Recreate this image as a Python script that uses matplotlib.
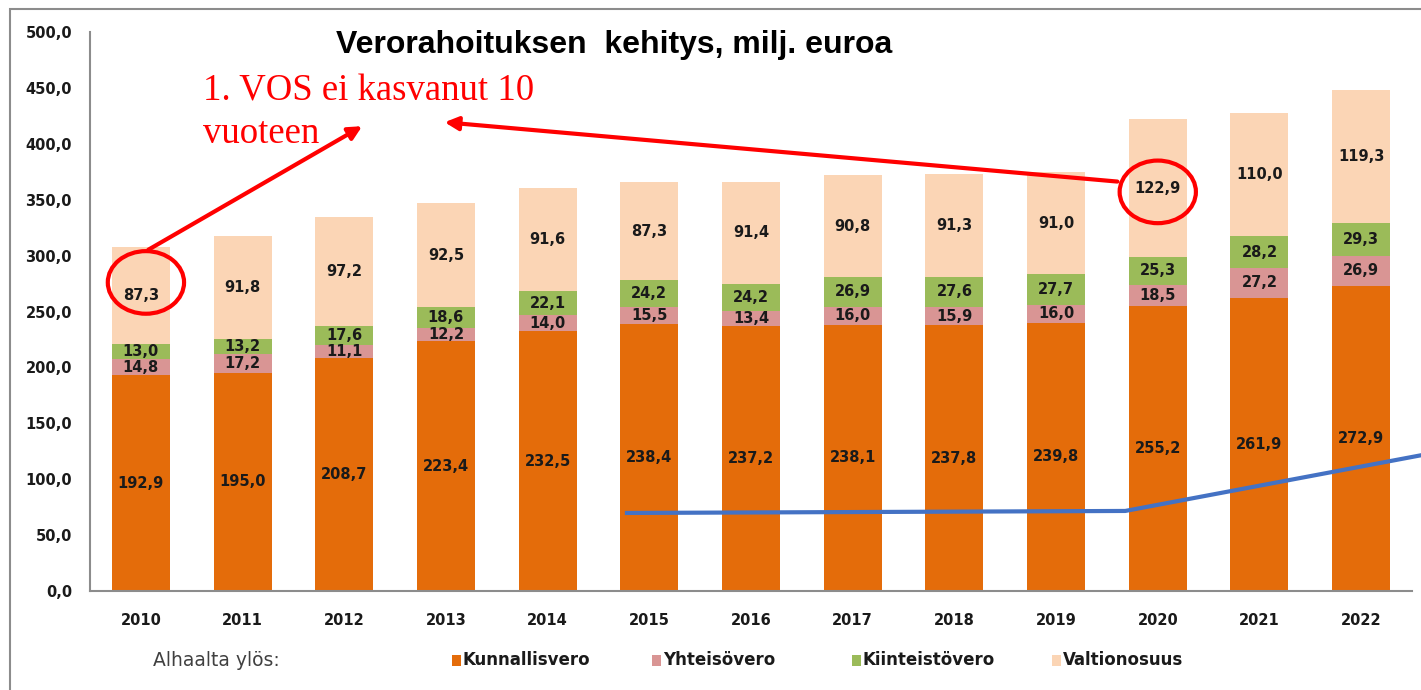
import matplotlib
matplotlib.use("Agg")
import matplotlib.pyplot as plt
from matplotlib.patches import Ellipse, Rectangle
import numpy as np

# Data (milj. euroa), bottom to top
years = ['2010', '2011', '2012', '2013', '2014', '2015', '2016',
         '2017', '2018', '2019', '2020', '2021', '2022']
kunnallisvero = [192.9, 195.0, 208.7, 223.4, 232.5, 238.4, 237.2, 238.1, 237.8, 239.8, 255.2, 261.9, 272.9]
yhteisovero = [14.8, 17.2, 11.1, 12.2, 14.0, 15.5, 13.4, 16.0, 15.9, 16.0, 18.5, 27.2, 26.9]
kiinteistovero = [13.0, 13.2, 17.6, 18.6, 22.1, 24.2, 24.2, 26.9, 27.6, 27.7, 25.3, 28.2, 29.3]
valtionosuus = [87.3, 91.8, 97.2, 92.5, 91.6, 87.3, 91.4, 90.8, 91.3, 91.0, 122.9, 110.0, 119.3]

series_names = ['Kunnallisvero', 'Yhteisövero', 'Kiinteistövero', 'Valtionosuus']
series_colors = ['#E46C0A', '#D99594', '#9BBB59', '#FBD5B5']
yticks = [0, 50, 100, 150, 200, 250, 300, 350, 400, 450, 500]

fig = plt.figure(figsize=(14.21, 6.9), dpi=100)
W, H = 1421, 690
ax = fig.add_axes([90 / W, 99 / H, 1322 / W, 559 / H])

x = np.arange(len(years))
bottom = np.zeros(len(years))
for vals, name, col in zip([kunnallisvero, yhteisovero, kiinteistovero, valtionosuus],
                           series_names, series_colors):
    vals = np.array(vals)
    ax.bar(x, vals, 0.57, bottom=bottom, color=col, label=name)
    for xi, b, v in zip(x, bottom, vals):
        ax.text(xi, b + v / 2, f"{v:.1f}".replace('.', ','), ha='center', va='center',
                fontsize=10.5, fontweight='bold', color='#1a1a1a')
    bottom += vals

ax.set_xlim(-0.5, 12.5)
ax.set_ylim(0, 500)
ax.set_yticks(yticks)
ax.set_yticklabels([f"{t:.1f}".replace('.', ',') for t in yticks])
ax.set_xticks(x)
ax.set_xticklabels(years)
for lab in ax.get_xticklabels() + ax.get_yticklabels():
    lab.set_fontweight('bold')
    lab.set_fontsize(10.5)
    lab.set_color('#1a1a1a')
ax.tick_params(axis='y', length=0, pad=13)
ax.tick_params(axis='x', length=0, pad=16)
for s in ['top', 'right']:
    ax.spines[s].set_visible(False)
for s in ['left', 'bottom']:
    ax.spines[s].set_color('#8c8c8c')
    ax.spines[s].set_linewidth(1.5)

fig.text(614 / W, 1 - 45 / H, 'Verorahoituksen  kehitys, milj. euroa', ha='center', va='center',
         fontsize=23, fontweight='bold', family='Liberation Sans')

# outer frame (left and top edges visible)
fig.patches.append(Rectangle((10 / W, -0.1), 1.0, 1.1 - 9 / H, transform=fig.transFigure,
                             fill=False, edgecolor='#8c8c8c', linewidth=1.5))

# legend row
fig.text(153 / W, 1 - 660 / H, 'Alhaalta ylös:', ha='left', va='center', fontsize=13.5,
         color='#404040', family='DejaVu Sans')
for i, (name, col) in enumerate(zip(series_names, series_colors)):
    lx = 452 + i * 200
    fig.patches.append(Rectangle((lx / W, 1 - 666 / H), 9 / W, 11 / H, transform=fig.transFigure,
                                 facecolor=col, edgecolor='none'))
    fig.text((lx + 11) / W, 1 - 660 / H, name, ha='left', va='center', fontsize=13.3,
             fontweight='bold', color='#1a1a1a', family='DejaVu Sans', fontstretch='condensed')

# red annotations
red = '#FF0000'
ax.text(0.61, 439, '1. VOS ei kasvanut 10', color=red, fontsize=26.5, family='Liberation Serif',
        ha='left', va='baseline')
ax.text(0.61, 401, 'vuoteen', color=red, fontsize=26.5, family='Liberation Serif',
        ha='left', va='baseline')
ax.add_patch(Ellipse((0.05, 276), 0.75, 56, fill=False, edgecolor=red, linewidth=3))
ax.add_patch(Ellipse((10.0, 357), 0.75, 56, fill=False, edgecolor=red, linewidth=3))
ax.annotate('', xy=(2.2, 417), xytext=(0.05, 304),
            arrowprops=dict(arrowstyle='-|>,head_length=0.8,head_width=0.4', color=red, lw=3))
ax.annotate('', xy=(2.96, 419.5), xytext=(9.63, 366),
            arrowprops=dict(arrowstyle='-|>,head_length=0.8,head_width=0.4', color=red, lw=3))

# blue trend line
ax.plot([4.78, 9.68, 12.6], [69.8, 71.6, 121.6], color='#4472C4', lw=3, clip_on=False)

fig.savefig('out.png', dpi=100)
